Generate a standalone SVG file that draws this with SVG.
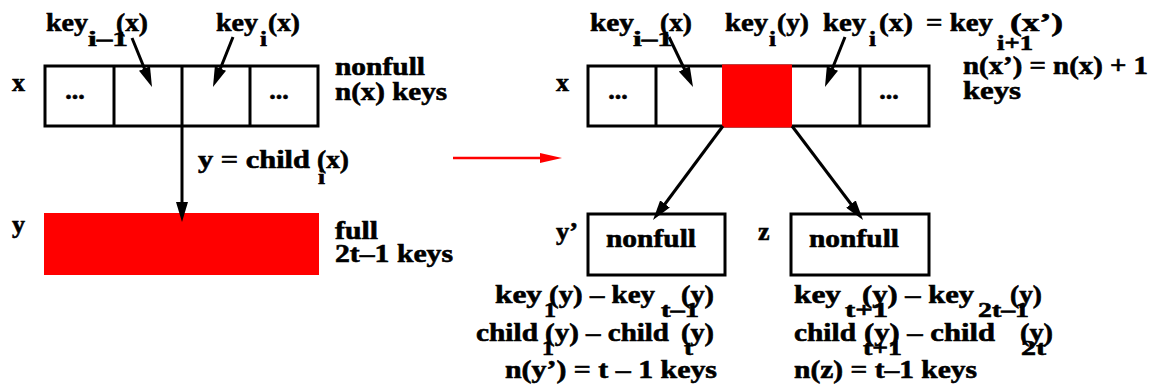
<svg xmlns="http://www.w3.org/2000/svg" width="1153" height="385" viewBox="0 0 1153 385">
<style>
text{font-family:"Liberation Serif","Times New Roman",serif;font-weight:bold;font-size:26px;fill:#000;stroke:#000;stroke-width:0.6}
text.s{font-size:22px}
text.d{text-anchor:middle}
.box{fill:#fff;stroke:#000;stroke-width:3}
.div{stroke:#000;stroke-width:3}
.red{fill:#ff0000}
.arr{stroke:#000;stroke-width:3;fill:none;marker-end:url(#ah)}
.rarr{stroke:#ff0000;stroke-width:2.5;fill:none;marker-end:url(#rh)}
</style>
<defs>
<marker id="ah" markerUnits="userSpaceOnUse" markerWidth="20" markerHeight="12" refX="10" refY="6" orient="auto"><path d="M0,0 L20,6 L0,12 z" fill="#000"/></marker>
<marker id="rh" markerUnits="userSpaceOnUse" markerWidth="22" markerHeight="10" refX="12" refY="5" orient="auto"><path d="M0,0 L22,5 L0,10 z" fill="#ff0000"/></marker>
</defs>
<rect width="1153" height="385" fill="#fff"/>

<g id="node-x-before">
<rect class="box" x="45" y="66" width="273" height="60"/>
<line class="div" x1="114" y1="66" x2="114" y2="126"/>
<line class="div" x1="182" y1="66" x2="182" y2="126"/>
<line class="div" x1="250" y1="66" x2="250" y2="126"/>
<text class="d" x="75" y="99">...</text>
<text class="d" x="279" y="99">...</text>
<text x="12" y="91">x</text>
<text x="335" y="75" textLength="90" lengthAdjust="spacingAndGlyphs">nonfull</text>
<text x="335" y="100" textLength="112" lengthAdjust="spacingAndGlyphs">n(x) keys</text>
<text x="46" y="31" textLength="42" lengthAdjust="spacingAndGlyphs">key</text>
<text class="s" x="88" y="46" textLength="40" lengthAdjust="spacingAndGlyphs">i–1</text>
<text x="116" y="31" textLength="32" lengthAdjust="spacingAndGlyphs">(x)</text>
<text x="216" y="31" textLength="42" lengthAdjust="spacingAndGlyphs">key</text>
<text class="s" x="260" y="46" textLength="7" lengthAdjust="spacingAndGlyphs">i</text>
<text x="268" y="31" textLength="32" lengthAdjust="spacingAndGlyphs">(x)</text>
</g>

<g id="node-y-before">
<rect class="red" x="44" y="213" width="275" height="62"/>
<text x="12" y="233">y</text>
<text x="335" y="239" textLength="43" lengthAdjust="spacingAndGlyphs">full</text>
<text x="335" y="262" textLength="118" lengthAdjust="spacingAndGlyphs">2t–1 keys</text>
</g>

<g id="node-x-after">
<rect class="box" x="588" y="66" width="341" height="60"/>
<rect class="red" x="722" y="64.5" width="70" height="63"/>
<line class="div" x1="656" y1="66" x2="656" y2="126"/>
<line class="div" x1="860" y1="66" x2="860" y2="126"/>
<text class="d" x="618" y="99">...</text>
<text class="d" x="889" y="99">...</text>
<text x="556" y="91">x</text>
<text x="590" y="31" textLength="44" lengthAdjust="spacingAndGlyphs">key</text>
<text class="s" x="633" y="46" textLength="40" lengthAdjust="spacingAndGlyphs">i–1</text>
<text x="660" y="31" textLength="32" lengthAdjust="spacingAndGlyphs">(x)</text>
<text x="725" y="31" textLength="43" lengthAdjust="spacingAndGlyphs">key</text>
<text class="s" x="769" y="46" textLength="7" lengthAdjust="spacingAndGlyphs">i</text>
<text x="777" y="31" textLength="32" lengthAdjust="spacingAndGlyphs">(y)</text>
<text x="823" y="31" textLength="43" lengthAdjust="spacingAndGlyphs">key</text>
<text class="s" x="869" y="46" textLength="7" lengthAdjust="spacingAndGlyphs">i</text>
<text x="879" y="31" textLength="34" lengthAdjust="spacingAndGlyphs">(x)</text>
<text x="926" y="31" textLength="67" lengthAdjust="spacingAndGlyphs">= key</text>
<text class="s" x="997" y="50" textLength="36" lengthAdjust="spacingAndGlyphs">i+1</text>
<text x="1010" y="31" textLength="53" lengthAdjust="spacingAndGlyphs">(x’)</text>
<text x="963" y="74" textLength="185" lengthAdjust="spacingAndGlyphs">n(x’) = n(x) + 1</text>
<text x="963" y="99" textLength="58" lengthAdjust="spacingAndGlyphs">keys</text>
</g>

<g id="node-y-prime">
<rect class="box" x="588" y="214" width="137" height="61"/>
<text x="606" y="247" textLength="90" lengthAdjust="spacingAndGlyphs">nonfull</text>
<text x="556" y="240" textLength="22" lengthAdjust="spacingAndGlyphs">y’</text>
<text x="495" y="303" textLength="47" lengthAdjust="spacingAndGlyphs">key</text>
<text class="s" x="544" y="317" textLength="12" lengthAdjust="spacingAndGlyphs">1</text>
<text x="549" y="303" textLength="106" lengthAdjust="spacingAndGlyphs">(y) – key</text>
<text class="s" x="661" y="317" textLength="38" lengthAdjust="spacingAndGlyphs">t–1</text>
<text x="681" y="303" textLength="33" lengthAdjust="spacingAndGlyphs">(y)</text>
<text x="476" y="341" textLength="62" lengthAdjust="spacingAndGlyphs">child</text>
<text class="s" x="542" y="355" textLength="12" lengthAdjust="spacingAndGlyphs">1</text>
<text x="545" y="341" textLength="124" lengthAdjust="spacingAndGlyphs">(y) – child</text>
<text class="s" x="684" y="355" textLength="9" lengthAdjust="spacingAndGlyphs">t</text>
<text x="681" y="341" textLength="33" lengthAdjust="spacingAndGlyphs">(y)</text>
<text x="505" y="378" textLength="212" lengthAdjust="spacingAndGlyphs">n(y’) = t – 1 keys</text>
</g>

<g id="node-z">
<rect class="box" x="791" y="214" width="138" height="61"/>
<text x="809" y="247" textLength="90" lengthAdjust="spacingAndGlyphs">nonfull</text>
<text x="758" y="240">z</text>
<text x="794" y="303" textLength="47" lengthAdjust="spacingAndGlyphs">key</text>
<text class="s" x="845" y="317" textLength="43" lengthAdjust="spacingAndGlyphs">t+1</text>
<text x="862" y="303" textLength="112" lengthAdjust="spacingAndGlyphs">(y) – key</text>
<text class="s" x="978" y="317" textLength="51" lengthAdjust="spacingAndGlyphs">2t–1</text>
<text x="1010" y="303" textLength="32" lengthAdjust="spacingAndGlyphs">(y)</text>
<text x="794" y="341" textLength="62" lengthAdjust="spacingAndGlyphs">child</text>
<text class="s" x="863" y="355" textLength="39" lengthAdjust="spacingAndGlyphs">t+1</text>
<text x="864" y="341" textLength="131" lengthAdjust="spacingAndGlyphs">(y) – child</text>
<text class="s" x="1021" y="355" textLength="25" lengthAdjust="spacingAndGlyphs">2t</text>
<text x="1020" y="341" textLength="33" lengthAdjust="spacingAndGlyphs">(y)</text>
<text x="794" y="378" textLength="183" lengthAdjust="spacingAndGlyphs">n(z) = t–1 keys</text>
</g>

<g id="connectors">
<line class="arr" x1="132" y1="38" x2="148.2" y2="77.7"/>
<line class="arr" x1="233" y1="37" x2="216.7" y2="77.7"/>
<line class="arr" x1="182" y1="126" x2="182" y2="212"/>
<text x="198" y="168" textLength="112" lengthAdjust="spacingAndGlyphs">y = child</text>
<text class="s" x="318" y="184" textLength="7" lengthAdjust="spacingAndGlyphs">i</text>
<text x="317" y="168" textLength="32" lengthAdjust="spacingAndGlyphs">(x)</text>
<line class="rarr" x1="453" y1="158" x2="552" y2="158"/>
<line class="arr" x1="669" y1="37" x2="688.7" y2="78"/>
<line class="arr" x1="845" y1="37" x2="828.7" y2="77.7"/>
<line class="arr" x1="723" y1="126" x2="659" y2="212"/>
<line class="arr" x1="792" y1="126" x2="857" y2="212"/>
</g>
</svg>
